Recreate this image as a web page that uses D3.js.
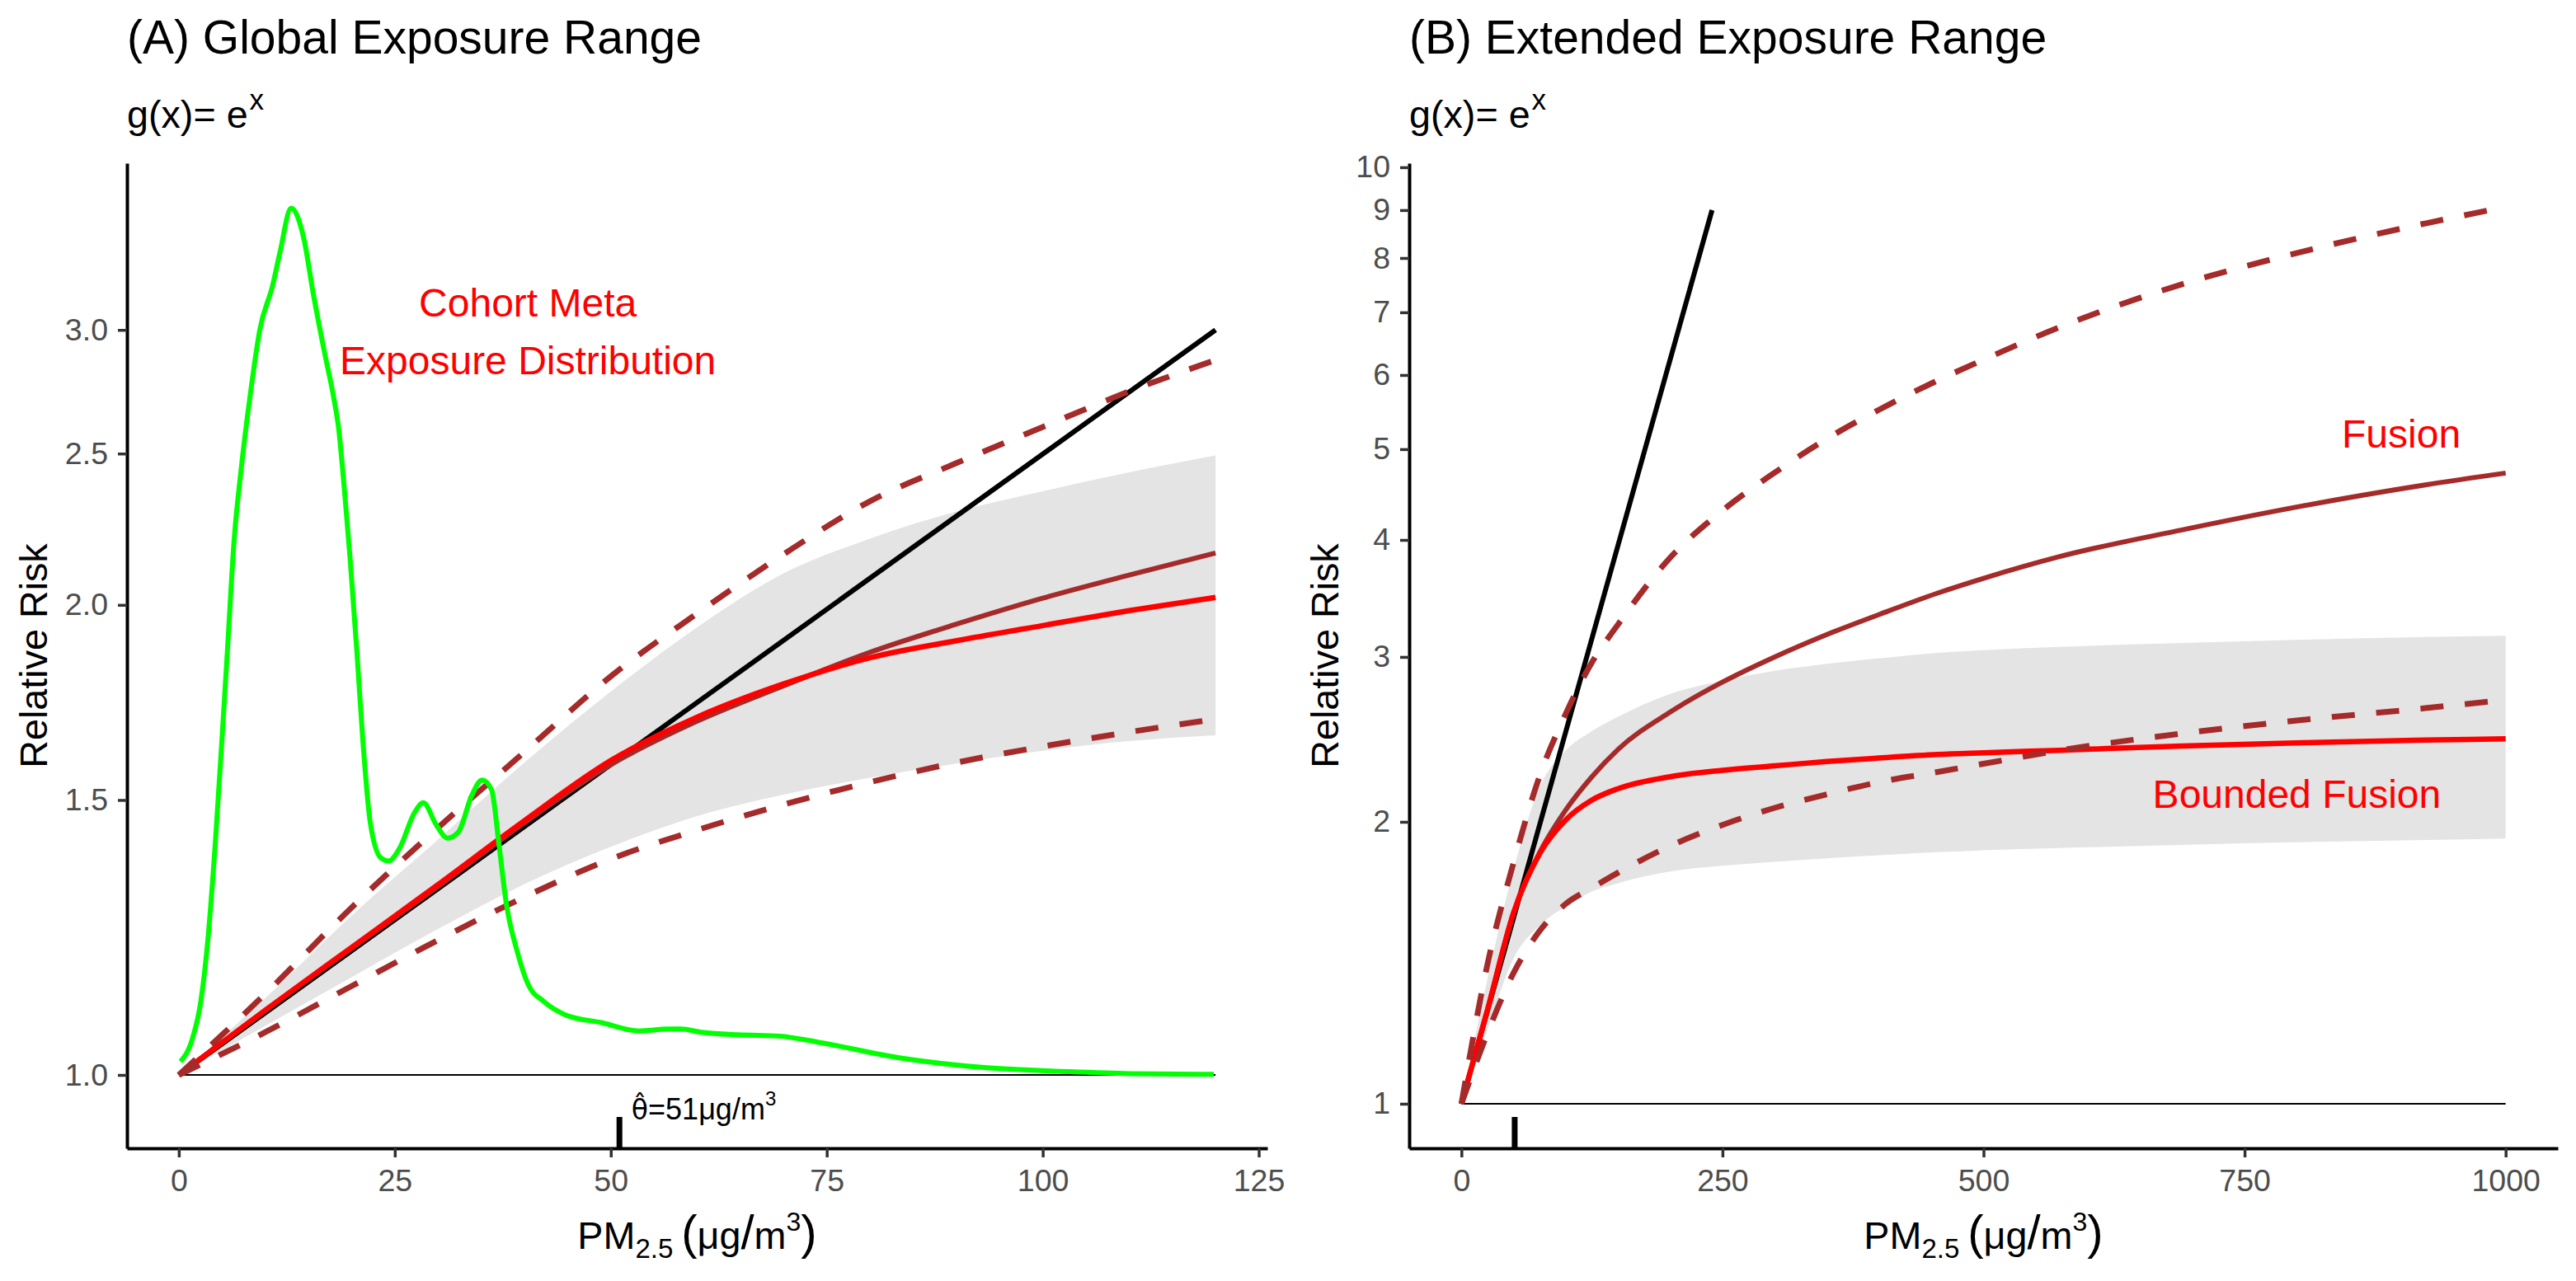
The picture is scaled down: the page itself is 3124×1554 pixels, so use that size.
<!DOCTYPE html>
<html>
<head>
<meta charset="utf-8">
<script src="https://cdn.jsdelivr.net/npm/d3@7/dist/d3.min.js"></script>
<style>
  body { margin: 0; background: #fff; }
  svg { display: block; font-family: "Liberation Sans", Arial, sans-serif; }
</style>
</head>
<body>
<svg id="chart" width="3124" height="1554"></svg>
<script>
// ---- panel A : global exposure range (0-120) ----
const aX        = [0, 10, 20, 30, 40, 50, 60, 70, 80, 90, 100, 110, 120];
const aFusion   = [1, 1.10, 1.205, 1.32, 1.45, 1.58, 1.685, 1.775, 1.865, 1.944, 2.02, 2.09, 2.159];
const aBounded  = [1, 1.10, 1.207, 1.324, 1.455, 1.59, 1.695, 1.78, 1.85, 1.897, 1.94, 1.983, 2.022];
const aUpper    = [1, 1.127, 1.28, 1.44, 1.61, 1.80, 1.975, 2.155, 2.33, 2.465, 2.60, 2.74, 2.87];
const aLower    = [1, 1.065, 1.14, 1.22, 1.30, 1.375, 1.435, 1.49, 1.54, 1.585, 1.623, 1.658, 1.69];
const aBandHi   = [1, 1.12, 1.265, 1.415, 1.585, 1.76, 1.935, 2.095, 2.205, 2.295, 2.365, 2.432, 2.493];
const aBandLo   = [1, 1.075, 1.155, 1.24, 1.325, 1.40, 1.465, 1.512, 1.55, 1.583, 1.613, 1.636, 1.65];
const aLinearX  = [0, 120];
const aLinearY  = [1, 3.0];

// exposure distribution (density drawn on the RR scale)
const densX = [0.2, 1.5, 2.55, 3.4, 4.26, 5.1, 5.6, 6.4, 7.24, 8.3, 9.37, 10.86, 11.7, 13.0, 14.48, 15.54,
  16.82, 17.9, 18.5, 19.17, 19.8, 20.6, 21.3, 22.15, 23.4, 24.3, 25.55, 27.3, 28.3, 29.8, 31.1, 32.37,
  33.86, 35.1, 36.2, 37.06, 37.9, 39.2, 40.46, 42.2, 44.7, 49, 53.3, 56.6, 58.1, 60.5, 64.7, 69.5,
  74.2, 83.7, 93.2, 102.7, 110, 119.8];
const densY = [1.02, 1.052, 1.115, 1.227, 1.418, 1.677, 1.86, 2.20, 2.45, 2.735, 3.0, 3.204, 3.362, 3.59,
  3.43, 3.17, 2.91, 2.72, 2.594, 2.368, 2.15, 1.87, 1.637, 1.452, 1.377, 1.371, 1.397, 1.473, 1.494,
  1.446, 1.418, 1.431, 1.508, 1.545, 1.523, 1.404, 1.288, 1.198, 1.142, 1.115, 1.093, 1.080, 1.067,
  1.070, 1.070, 1.065, 1.061, 1.059, 1.049, 1.025, 1.011, 1.005, 1.002, 1.001];

// ---- panel B : extended exposure range (0-1000) ----
const bX        = [0, 25, 50, 75, 100, 125, 150, 200, 250, 300, 350, 400, 456, 500, 573, 690, 806, 923, 1000];
const bFusion   = [1, 1.26, 1.60, 1.855, 2.06, 2.235, 2.39, 2.62, 2.82, 3.00, 3.17, 3.33, 3.51, 3.64, 3.84, 4.10, 4.35, 4.58, 4.715];
const bBounded  = [1, 1.26, 1.60, 1.85, 2.01, 2.11, 2.17, 2.235, 2.27, 2.295, 2.32, 2.34, 2.36, 2.37, 2.385, 2.41, 2.43, 2.445, 2.453];
const bUpper    = [1, 1.41, 1.81, 2.24, 2.61, 2.96, 3.25, 3.83, 4.30, 4.72, 5.13, 5.51, 5.92, 6.23, 6.75, 7.50, 8.13, 8.71, 9.07];
const bLower    = [1, 1.19, 1.38, 1.53, 1.635, 1.70, 1.765, 1.885, 1.985, 2.07, 2.14, 2.205, 2.261, 2.307, 2.384, 2.485, 2.57, 2.645, 2.70];
const bBandHi   = [1, 1.36, 1.78, 2.18, 2.385, 2.50, 2.59, 2.74, 2.83, 2.90, 2.95, 2.99, 3.03, 3.05, 3.075, 3.105, 3.13, 3.15, 3.16];
const bBandLo   = [1, 1.2, 1.43, 1.55, 1.625, 1.685, 1.72, 1.77, 1.795, 1.813, 1.828, 1.842, 1.856, 1.865, 1.875, 1.89, 1.903, 1.913, 1.92];
const bLinearX  = [0, 240];
const bLinearY  = [1, 9];

const thetaHat = [51];
const aTicksX = [0, 25, 50, 75, 100, 125];
const aTicksY = [1.0, 1.5, 2.0, 2.5, 3.0];
const bTicksX = [0, 250, 500, 750, 1000];
const bTicksY = [1, 2, 3, 4, 5, 6, 7, 8, 9, 10];

const BROWN = "#A52A2A", RED = "#FF0000", GREEN = "#00FF00", BAND = "#E4E4E4";
const svg = d3.select("#chart");

function drawPanel(p) {
  const g = svg.append("g");
  const x = p.x, y = p.y;
  const pts = (xs, ys) => d3.zip(xs, ys);
  const line = d3.line().x(d => x(d[0])).y(d => y(d[1])).curve(d3.curveMonotoneX);
  const area = d3.area().x(d => x(d[0])).y0(d => y(d[1])).y1(d => y(d[2])).curve(d3.curveMonotoneX);

  // confidence band
  g.append("path").datum(d3.zip(p.xs, p.bandLo, p.bandHi))
    .attr("d", area).attr("fill", BAND);

  // reference line at RR = 1
  g.append("line")
    .attr("x1", x(0)).attr("x2", x(p.xs[p.xs.length - 1]))
    .attr("y1", y(1)).attr("y2", y(1))
    .attr("stroke", "#000").attr("stroke-width", 2);

  g.append("path").datum(pts(p.linX, p.linY)).attr("d", line)
    .attr("fill", "none").attr("stroke", "#000").attr("stroke-width", 6);
  g.append("path").datum(pts(p.xs, p.fusion)).attr("d", line)
    .attr("fill", "none").attr("stroke", BROWN).attr("stroke-width", 6);
  g.append("path").datum(pts(p.xs, p.bounded)).attr("d", line)
    .attr("fill", "none").attr("stroke", RED).attr("stroke-width", 6.5);
  [p.upper, p.lower].forEach(s => {
    g.append("path").datum(pts(p.xs, s)).attr("d", line)
      .attr("fill", "none").attr("stroke", BROWN).attr("stroke-width", 7)
      .attr("stroke-dasharray", "28,26");
  });

  if (p.density) {
    g.append("path").datum(pts(densX, densY)).attr("d", line)
      .attr("fill", "none").attr("stroke", GREEN).attr("stroke-width", 6);
  }

  // rug for the exposure estimate
  g.selectAll(".rug").data(thetaHat).join("line")
    .attr("x1", d => x(d)).attr("x2", d => x(d))
    .attr("y1", y.range()[0]).attr("y2", y.range()[0] - 38)
    .attr("stroke", "#000").attr("stroke-width", 7);

  // axes
  const ax = g.append("g").attr("transform", `translate(0,${y.range()[0]})`)
    .call(d3.axisBottom(x).tickValues(p.ticksX).tickFormat(d3.format("d"))
      .tickSize(11).tickSizeOuter(0).tickPadding(14));
  const ay = g.append("g").attr("transform", `translate(${x.range()[0]},0)`)
    .call(d3.axisLeft(y).tickValues(p.ticksY).tickFormat(p.fmtY).tickSize(11).tickSizeOuter(0).tickPadding(12));
  [ax, ay].forEach(a => {
    a.select(".domain").attr("stroke", "#000").attr("stroke-width", 4);
    a.selectAll(".tick line").attr("stroke", "#333").attr("stroke-width", 3.5);
    a.selectAll(".tick text").attr("fill", "#4D4D4D").attr("font-size", 37.5)
      .attr("font-family", "Liberation Sans, Arial, sans-serif");
  });

  // titles
  const left = x.range()[0];
  g.append("text").attr("x", left).attr("y", 65).attr("font-size", 57).text(p.title);
  const sub = g.append("text").attr("x", left).attr("y", 155).attr("font-size", 46.7);
  sub.append("tspan").text("g(x)= e");
  sub.append("tspan").attr("font-size", 35).attr("dy", -22).attr("dx", 2).text("x");

  const cx = (x.range()[0] + x.range()[1]) / 2;
  const xt = g.append("text").attr("x", cx).attr("y", 1515)
    .attr("text-anchor", "middle").attr("font-size", 46.7);
  xt.append("tspan").text("PM");
  xt.append("tspan").attr("font-size", 33).attr("dy", 11).text("2.5");
  xt.append("tspan").attr("font-size", 58).attr("dy", -11).attr("dx", 10).text("(");
  xt.append("tspan").text("μg");
  xt.append("tspan").attr("font-size", 58).text("/");
  xt.append("tspan").text("m");
  xt.append("tspan").attr("font-size", 32).attr("dy", -22).text("3");
  xt.append("tspan").attr("font-size", 58).attr("dy", 22).text(")");

  const cy = (y.range()[0] + y.range()[1]) / 2;
  g.append("text").attr("transform", `translate(${p.yTitleX},${cy}) rotate(-90)`)
    .attr("text-anchor", "middle").attr("font-size", 46.7).text("Relative Risk");

  // in-panel labels
  p.labels.forEach(l => {
    g.append("text").attr("x", x(l.x)).attr("y", y(l.y))
      .attr("text-anchor", "middle").attr("font-size", 48).attr("fill", RED).text(l.text);
  });
  return g;
}

const xA = d3.scaleLinear().domain([-6, 126]).range([154, 1537]);
const yA = d3.scaleLog().domain([0.8975, 3.836]).range([1393, 198]);

const gA = drawPanel({
  x: xA, y: yA,
  xs: aX, fusion: aFusion, bounded: aBounded, upper: aUpper, lower: aLower,
  bandHi: aBandHi, bandLo: aBandLo, linX: aLinearX, linY: aLinearY,
  density: true, ticksX: aTicksX, ticksY: aTicksY, fmtY: d3.format(".1f"),
  title: "(A) Global Exposure Range", yTitleX: 57,
  labels: [
    { x: 40.4, y: 3.06, text: "Cohort Meta" },
    { x: 40.4, y: 2.81, text: "Exposure Distribution" }
  ]
});

// theta-hat annotation next to the rug in panel A
const thetaLabel = gA.append("text").attr("x", xA(52.4)).attr("y", yA(0.936)).attr("font-size", 36);
thetaLabel.append("tspan").attr("font-family", "DejaVu Sans, sans-serif").attr("font-size", 33)
  .text("θ\u0302");
thetaLabel.append("tspan").text("=51μg/m");
thetaLabel.append("tspan").attr("font-size", 24).attr("dy", -17).text("3");

drawPanel({
  x: d3.scaleLinear().domain([-50, 1050]).range([1709, 3102]),
  y: d3.scaleLog().domain([0.8963, 10.10]).range([1393, 198]),
  xs: bX, fusion: bFusion, bounded: bBounded, upper: bUpper, lower: bLower,
  bandHi: bBandHi, bandLo: bBandLo, linX: bLinearX, linY: bLinearY,
  density: false, ticksX: bTicksX, ticksY: bTicksY, fmtY: d3.format("d"),
  title: "(B) Extended Exposure Range", yTitleX: 1623,
  labels: [
    { x: 900, y: 5.02, text: "Fusion" },
    { x: 800, y: 2.07, text: "Bounded Fusion" }
  ]
});
</script>
</body>
</html>
